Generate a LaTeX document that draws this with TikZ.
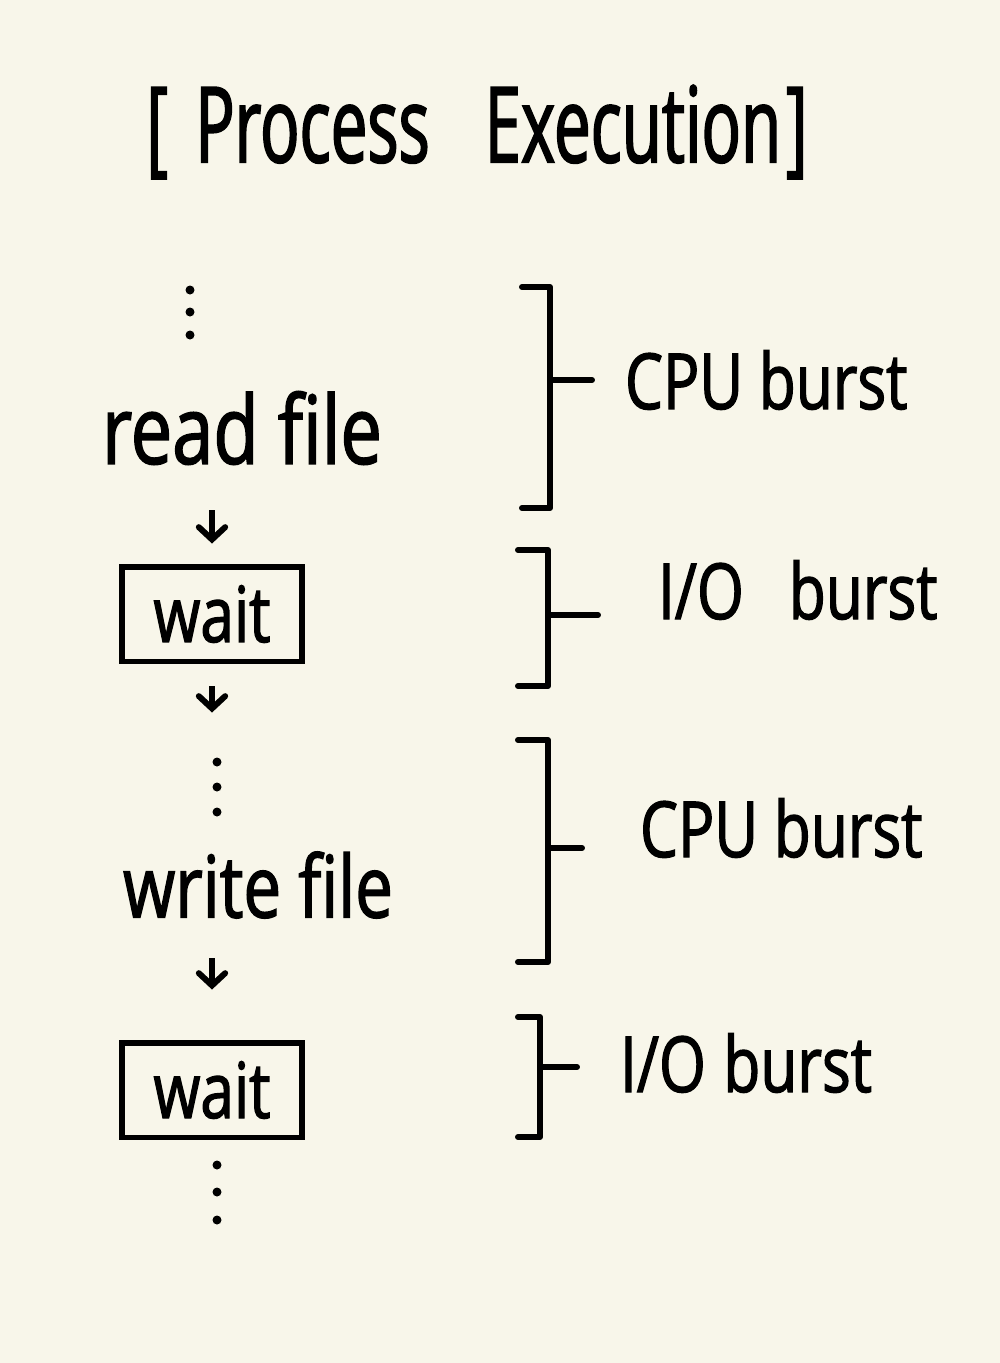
\documentclass[tikz,border=0pt]{standalone}
\usepackage{fontspec}
\setmainfont{Open Sans}
\newfontfamily\handfont[FakeStretch=0.78, FakeBold=1.6]{Open Sans}
\newfontfamily\titlefont[FakeStretch=0.62, FakeBold=1.6]{Open Sans}
\usepackage{tikz}
\usetikzlibrary{arrows.meta, positioning}
\definecolor{paper}{HTML}{F8F6EA}
\tikzset{
  hand/.style = {align=center, inner sep=0pt, text centered,
    font=\handfont\fontsize{44}{50}\selectfont},
  wb/.style = {hand, rectangle, draw=black, line width=3.4pt,
    minimum width=3.6cm, minimum height=1.9cm},
  br/.style = {-, line width=3.4pt, line cap=round, line join=round},
  dot/.style = {circle, fill=black, inner sep=0pt, minimum size=0.18cm}
}

\begin{document}
\begin{tikzpicture}[x=0.02cm, y=-0.02cm, ->,
  >={Straight Barb[length=7pt, width=15pt, line cap=round]}, line width=3.4pt]
\fill[paper] (0,0) rectangle (1000,1363);
\useasboundingbox (0,0) rectangle (1000,1363);

\node [hand, font=\titlefont\fontsize{60}{66}\selectfont] (title) at (477,132)
  {{[}\hspace{0.55cm}Process\hspace{1.1cm}Execution\hspace{0.1cm}{]}};

% left column
\foreach \y in {290,312,335} \node [dot] (top\y) at (190,\y) {};
\node [hand, font=\handfont\fontsize{54}{58}\selectfont] (readf) at (242,428) {read file};
\node [wb] (wait1) at (212,614) {wait};
\foreach \y in {762,787,812} \node [dot] (mid\y) at (217,\y) {};
\node [hand, font=\handfont\fontsize{49}{54}\selectfont] (writef) at (258,885) {write file};
\node [wb] (wait2) at (212,1090) {wait};
\foreach \y in {1165,1192,1220} \node [dot] (end\y) at (217,\y) {};

\draw [shorten <=0.85cm, shorten >=0.4cm] (readf.south -| wait1.north) -- (wait1.north);
\draw [shorten <=0.44cm, shorten >=0.84cm] (wait1.south) -- (wait1.south |- mid762.north);
\draw [shorten <=0.74cm, shorten >=1cm] (writef.south -| wait2.north) -- (wait2.north);

% brackets on the right
\foreach \n/\xs/\xl/\yt/\yb/\ym/\xt/\gap/\up/\lab in {
    1/550/522/287/508/380/592/0.6/0/{CPU burst},
    2/548/518/550/686/615/598/1.14/0.5/{I/O\hspace{0.9cm}burst},
    3/548/518/740/962/848/582/1.1/0.4/{CPU burst},
    4/540/518/1017/1137/1067/577/0.8/0.08/{I/O\hspace{0.35cm}burst}}{
  \draw [br] (\xl,\yt) -- (\xs,\yt) -- (\xs,\yb) -- (\xl,\yb);
  \coordinate (b\n) at (\xs,\ym);
  \coordinate (t\n) at (\xt,\ym);
  \draw [br] (b\n) -- (t\n);
  \node [hand, right=\gap cm of t\n, yshift=\up cm] (lab\n) {\lab};
}
\end{tikzpicture}
\end{document}
